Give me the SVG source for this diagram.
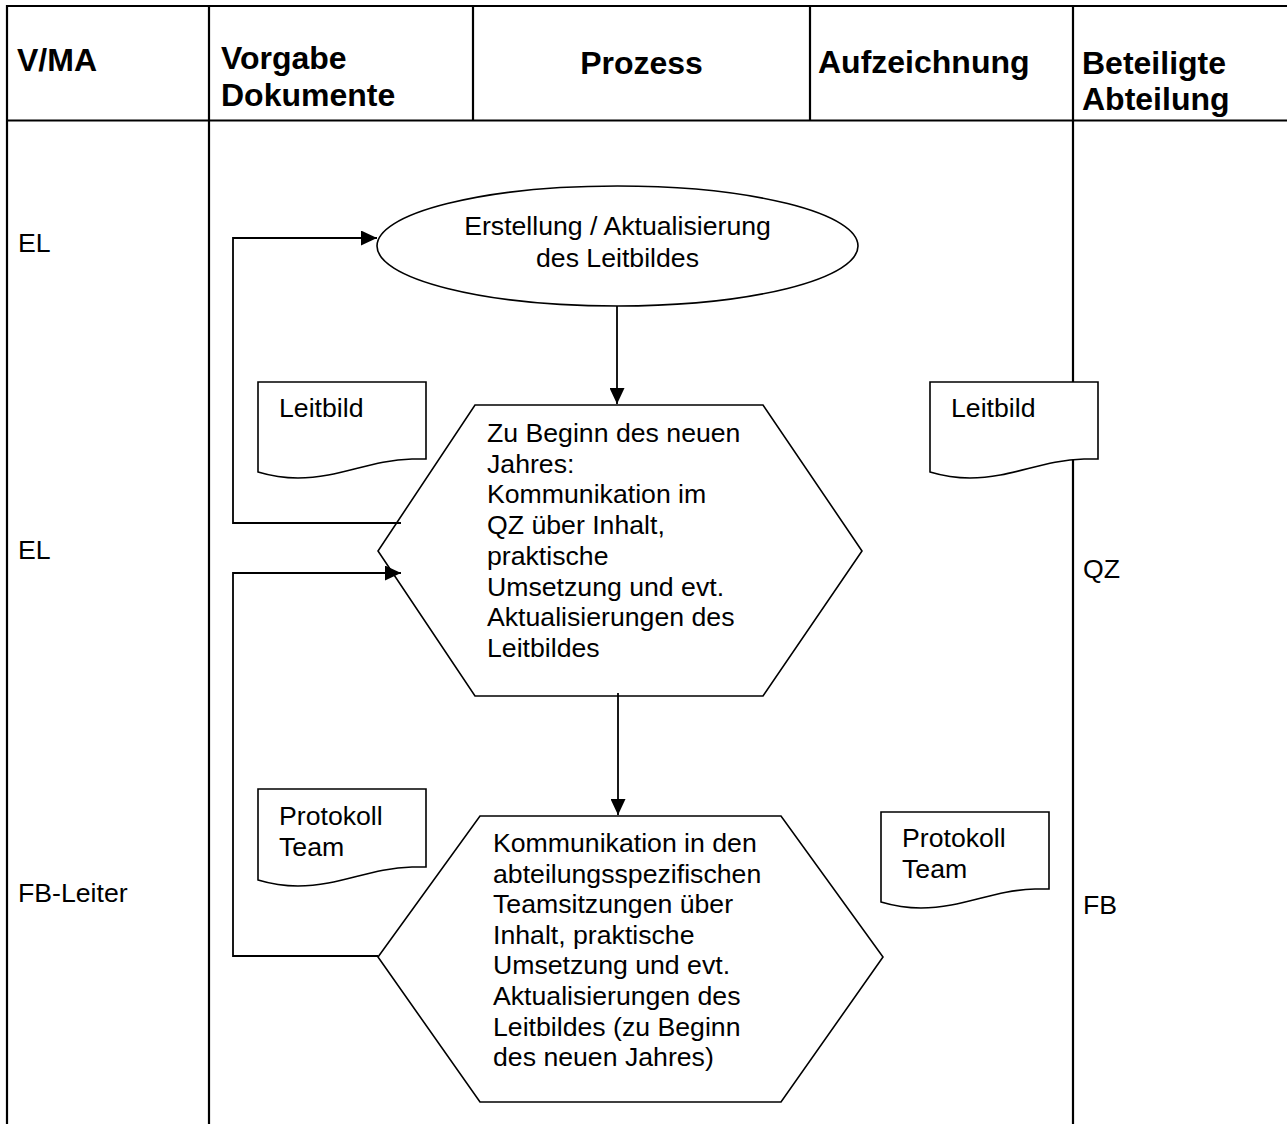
<svg xmlns="http://www.w3.org/2000/svg" width="1287" height="1124" viewBox="0 0 1287 1124">
<style>
.tbl{stroke:#000;stroke-width:2.2;fill:none}
.hd{font-family:"Liberation Sans",Arial,sans-serif;font-size:32px;font-weight:bold;fill:#000}
.tx{font-family:"Liberation Sans",Arial,sans-serif;font-size:26.67px;fill:#000}
.shape{stroke:#000;stroke-width:1.6;fill:#fff}
.con{stroke:#000;stroke-width:1.8;fill:none}
</style>
<defs>
<marker id="arr" markerUnits="userSpaceOnUse" markerWidth="17" markerHeight="15" refX="16" refY="7.5" orient="auto">
<path d="M0,0 L16,7.5 L0,15 Z" fill="#000"/>
</marker>
</defs>
<rect width="1287" height="1124" fill="#fff"/>
<g id="table">
<line class="tbl" x1="6" y1="6" x2="1287" y2="6"/>
<line class="tbl" x1="6" y1="120.5" x2="1287" y2="120.5"/>
<line class="tbl" x1="7" y1="5" x2="7" y2="1124"/>
<line class="tbl" x1="209" y1="6" x2="209" y2="1124"/>
<line class="tbl" x1="473" y1="6" x2="473" y2="120.5"/>
<line class="tbl" x1="810" y1="6" x2="810" y2="120.5"/>
<line class="tbl" x1="1073" y1="6" x2="1073" y2="1124"/>
<text class="hd" x="17" y="71">V/MA</text>
<text class="hd" x="221"><tspan x="221" y="69">Vorgabe</tspan><tspan x="221" y="106">Dokumente</tspan></text>
<text class="hd" x="641.5" y="74" text-anchor="middle">Prozess</text>
<text class="hd" x="818" y="73">Aufzeichnung</text>
<text class="hd" x="1082"><tspan x="1082" y="74">Beteiligte</tspan><tspan x="1082" y="110">Abteilung</tspan></text>
<text class="tx" x="18" y="252">EL</text>
<text class="tx" x="18" y="559">EL</text>
<text class="tx" x="18" y="902">FB-Leiter</text>
<text class="tx" x="1083" y="578">QZ</text>
<text class="tx" x="1083" y="914">FB</text>
</g>
<g id="n-start">
<ellipse class="shape" cx="617.5" cy="246" rx="240.5" ry="60"/>
<text class="tx" text-anchor="middle"><tspan x="617.5" y="235">Erstellung / Aktualisierung</tspan><tspan x="617.5" y="267">des Leitbildes</tspan></text>
</g>
<g id="n-qz">
<polygon class="shape" points="475,405 763,405 862,551 763,696 475,696 378,551"/>
<text class="tx"><tspan x="487" y="442">Zu Beginn des neuen</tspan><tspan x="487" y="472.7">Jahres:</tspan><tspan x="487" y="503.4">Kommunikation im</tspan><tspan x="487" y="534.1">QZ über Inhalt,</tspan><tspan x="487" y="564.8">praktische</tspan><tspan x="487" y="595.5">Umsetzung und evt.</tspan><tspan x="487" y="626.2">Aktualisierungen des</tspan><tspan x="487" y="656.9">Leitbildes</tspan></text>
</g>
<g id="n-fb">
<polygon class="shape" points="480,816 781,816 883,957 781,1102 480,1102 378,957"/>
<text class="tx"><tspan x="493" y="852">Kommunikation in den</tspan><tspan x="493" y="882.6">abteilungsspezifischen</tspan><tspan x="493" y="913.2">Teamsitzungen über</tspan><tspan x="493" y="943.8">Inhalt, praktische</tspan><tspan x="493" y="974.4">Umsetzung und evt.</tspan><tspan x="493" y="1005">Aktualisierungen des</tspan><tspan x="493" y="1035.6">Leitbildes (zu Beginn</tspan><tspan x="493" y="1066.2">des neuen Jahres)</tspan></text>
</g>
<g id="doc-leitbild-vorgabe">
<path class="shape" d="M258,382 H426 V459 H412 C370,460 340,478 298,478 C280,478 268,475 258,472 Z"/>
<text class="tx" x="279" y="417">Leitbild</text>
</g>
<g id="doc-leitbild-aufz">
<path class="shape" d="M930,382 H1098 V459 H1084 C1042,460 1012,478 970,478 C952,478 940,475 930,472 Z"/>
<text class="tx" x="951" y="417">Leitbild</text>
</g>
<g id="doc-protokoll-vorgabe">
<path class="shape" d="M258,789 H426 V867 H412 C370,868 340,886 298,886 C280,886 268,883 258,880 Z"/>
<text class="tx"><tspan x="279" y="825">Protokoll</tspan><tspan x="279" y="856">Team</tspan></text>
</g>
<g id="doc-protokoll-aufz">
<path class="shape" d="M881,812 H1049 V889 H1035 C993,890 963,908 921,908 C903,908 891,905 881,902 Z"/>
<text class="tx"><tspan x="902" y="847">Protokoll</tspan><tspan x="902" y="877.5">Team</tspan></text>
</g>
<g id="connectors">
<polyline class="con" points="401,523 233,523 233,238 377,238" marker-end="url(#arr)"/>
<polyline class="con" points="233,957 233,573 401,573" marker-end="url(#arr)"/>
<line class="con" x1="378" y1="956" x2="233" y2="956"/>
<line class="con" x1="617" y1="306" x2="617" y2="404" marker-end="url(#arr)"/>
<line class="con" x1="618" y1="693" x2="618" y2="815" marker-end="url(#arr)"/>
</g>
</svg>
